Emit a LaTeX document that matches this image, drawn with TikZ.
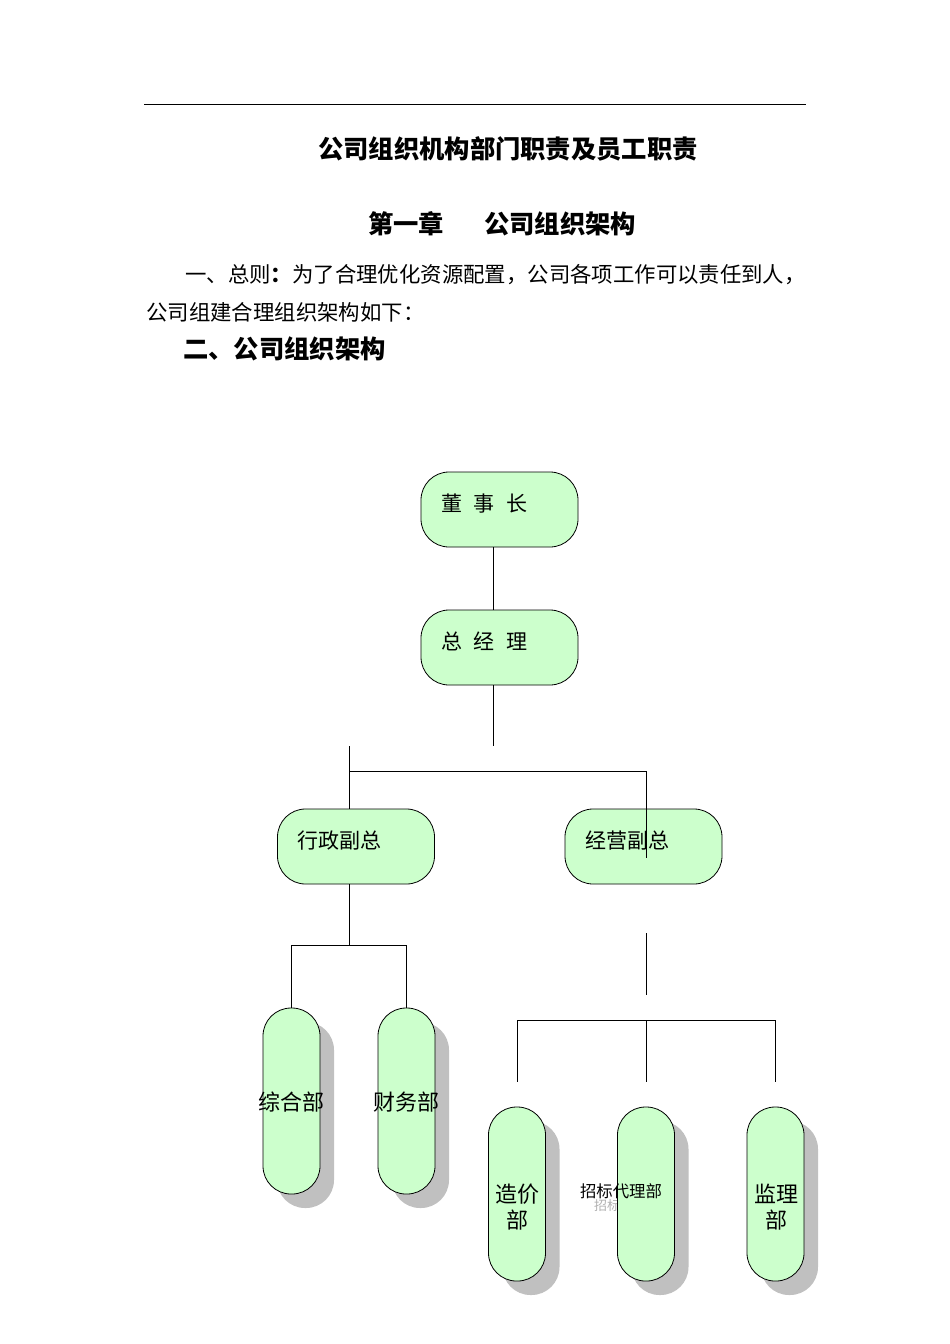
\documentclass[tikz,border=0pt]{standalone}
\usepackage{fontspec}
\setmainfont{Noto Sans CJK SC}
\usetikzlibrary{shadows}
\definecolor{boxgreen}{HTML}{CCFFCC}
\definecolor{shadowgray}{HTML}{C0C0C0}
\begin{document}
\begin{tikzpicture}[x=1pt,y=-1pt,
  conn/.style={draw=black,line width=0.8pt},
  hbox/.style={draw=black,line width=0.8pt,fill=boxgreen,rounded corners=28pt,
    minimum width=157pt,minimum height=75pt,inner sep=0pt,text width=117pt,align=left,
    text depth=14pt,font=\fontsize{21}{25}\selectfont},
  vbox/.style={draw=black,line width=0.8pt,fill=boxgreen,rounded corners=28pt,
    minimum width=57pt,inner sep=0pt,
    drop shadow={shadow xshift=14pt,shadow yshift=-14pt,fill=shadowgray,opacity=1}},
  vlabel/.style={inner sep=0pt,font=\fontsize{22}{26}\selectfont,align=center},
  heading/.style={inner sep=0pt,font=\bfseries\fontsize{25.3}{30}\selectfont},
  body/.style={inner sep=0pt,anchor=west,font=\fontsize{21.4}{26}\selectfont}]
\useasboundingbox (0,0) rectangle (950,1344);
\fill[white] (0,0) rectangle (950,1344);

% header rule
\coordinate (r1) at (144,104);
\coordinate (r2) at (806,104);
\draw[line width=0.9pt] (r1) -- (r2);

% texts
\node[heading] (title) at (508,149) {公司组织机构部门职责及员工职责};
\node[heading,anchor=west] (ch1) at (368,224) {第一章\hspace{40pt}公司组织架构};
\node[body] (p1) at (185,275) {一、总则\textbf{：}为了合理优化资源配置，公司各项工作可以责任到人，};
\node[body] (p2) at (146,312) {公司组建合理组织架构如下：};
\node[heading,anchor=west] (h2) at (183,349) {二、公司组织架构};

% top boxes
\node[hbox] (dsz) at (499.5,509.5) {董\hspace{12pt}事\hspace{12pt}长};
\node[hbox] (zjl) at (499.5,647.5) {总\hspace{12pt}经\hspace{12pt}理};
\node[hbox] (xz) at (356,846.5) {行政副总};
\node[hbox] (jy) at (643.5,846.5) {经营副总};

% ghost text behind box
\node[inner sep=0pt,anchor=west,text=black!30,font=\fontsize{13}{15}\selectfont] (ghost) at (594,1206) {招标};

% vertical boxes
\node[vbox,minimum height=186pt] (zh) at (291.5,1101) {};
\node[vbox,minimum height=186pt] (cw) at (406.5,1101) {};
\node[vbox,minimum height=174pt] (zj) at (517,1194) {};
\node[vbox,minimum height=174pt] (zb) at (646,1194) {};
\node[vbox,minimum height=174pt] (jl) at (775.5,1194) {};

\node[vlabel] (zhT) at (291.5,1102) {综合部};
\node[vlabel] (cwT) at (406.5,1102) {财务部};
\node[vlabel] (zjT) at (517,1207) {造价\\部};
\node[inner sep=0pt,font=\fontsize{16.4}{19}\selectfont] (zbT) at (621,1191) {招标代理部};
\node[vlabel] (jlT) at (776,1207) {监理\\部};

% connectors
\coordinate (c1) at (493,746);
\coordinate (c2) at (349,746);
\coordinate (c3) at (349,771);
\coordinate (c4) at (646,771);
\coordinate (c5) at (646,858);
\coordinate (c6) at (349,945);
\coordinate (c7) at (291,945);
\coordinate (c8) at (406,945);
\coordinate (d1) at (646,933);
\coordinate (d2) at (646,995);
\coordinate (e1) at (517,1020);
\coordinate (e2) at (646,1020);
\coordinate (e3) at (775,1020);
\coordinate (f1) at (517,1082);
\coordinate (f2) at (646,1082);
\coordinate (f3) at (775,1082);

\draw[conn] (dsz.south -| c1) -- (zjl.north -| c1);
\draw[conn] (zjl.south -| c1) -- (c1);
\draw[conn] (c2) -- (xz.north -| c2);
\draw[conn] (c3) -- (c4) -- (c5);
\draw[conn] (xz.south -| c6) -- (c6);
\draw[conn] (c7) -- (c8);
\draw[conn] (c7) -- (zh.north -| c7);
\draw[conn] (c8) -- (cw.north -| c8);
\draw[conn] (d1) -- (d2);
\draw[conn] (e1) -- (e3);
\draw[conn] (e1) -- (f1);
\draw[conn] (e2) -- (f2);
\draw[conn] (e3) -- (f3);
\end{tikzpicture}
\end{document}
